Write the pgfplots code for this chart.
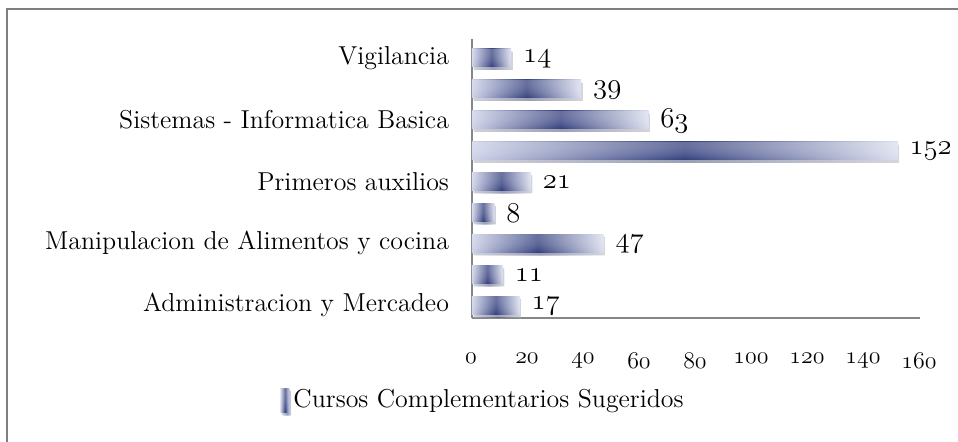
\documentclass[border=0pt]{standalone}
\usepackage{pgfplots}
\pgfplotsset{compat=1.18}
\usetikzlibrary{shadows,fadings}
\definecolor{barlight}{HTML}{CDD1E8}
\definecolor{bardark}{HTML}{34407E}
\definecolor{framegray}{HTML}{7F7F7F}
\definecolor{axisgray}{HTML}{868686}
\tikzfading[name=topgloss, top color=transparent!45, bottom color=transparent!100]
\tikzset{barsty/.style={draw=none, left color=barlight, right color=barlight!70!white, middle color=bardark,
  drop shadow={shadow xshift=0.8bp, shadow yshift=-1.5bp, opacity=0.35},
  postaction={fill=white, path fading=topgloss}}}
\begin{document}
\begin{tikzpicture}
\useasboundingbox (-236bp,-62bp) rectangle (243bp,159bp);
\draw[framegray, line width=1.2bp] (-232.5bp,-70bp) -- (-232.5bp,154.5bp) -- (250bp,154.5bp);
\begin{axis}[
  at={(0,0)}, anchor=south west,
  scale only axis, width=224bp, height=139.5bp,
  xbar, bar width=9bp, bar shift=0pt,
  xmin=0, xmax=160, ymin=-0.42, ymax=8.61,
  axis x line*=bottom, axis y line*=left,
  axis line style={axisgray, line width=0.75bp, -},
  xtick={0,20,...,160}, ytick={0,2,4,6,8},
  yticklabels={Administracion y Mercadeo, Manipulacion de Alimentos y cocina, Primeros auxilios, Sistemas - Informatica Basica, Vigilancia},
  major tick length=0pt,
  tick style={draw=none},
  xticklabel={$\mathnormal{\pgfmathprintnumber{\tick}}$},
  xticklabel style={font=\fontsize{13}{15}\selectfont, yshift=-14bp, xshift=-0.5bp},
  yticklabel style={font=\fontsize{13}{15}\selectfont, xshift=-8bp},
  point meta=x,
  nodes near coords={$\mathnormal{\pgfmathprintnumber{\pgfplotspointmeta}}$},
  nodes near coords style={font=\fontsize{15}{17}\selectfont, xshift=2.5bp, yshift=-0.5bp, text=black},
  clip=false,
  legend style={at={(0.027,-0.294)}, anchor=center, draw=none, fill=none,
    font=\fontsize{13}{15}\selectfont, inner sep=0pt},
]
\addplot[barsty,
  legend image code/.code={\fill[left color=barlight, right color=barlight, middle color=bardark] (0bp,-6bp) rectangle (4.5bp,6bp);}]
  coordinates {(17,0)};
\addlegendentry{Cursos Complementarios Sugeridos}
\addplot[barsty, forget plot] coordinates {(11,1)};
\addplot[barsty, forget plot] coordinates {(47,2)};
\addplot[barsty, forget plot] coordinates {(8,3)};
\addplot[barsty, forget plot] coordinates {(21,4)};
\addplot[barsty, forget plot] coordinates {(152,5)};
\addplot[barsty, forget plot] coordinates {(63,6)};
\addplot[barsty, forget plot] coordinates {(39,7)};
\addplot[barsty, forget plot] coordinates {(14,8)};
\end{axis}
\end{tikzpicture}
\end{document}
